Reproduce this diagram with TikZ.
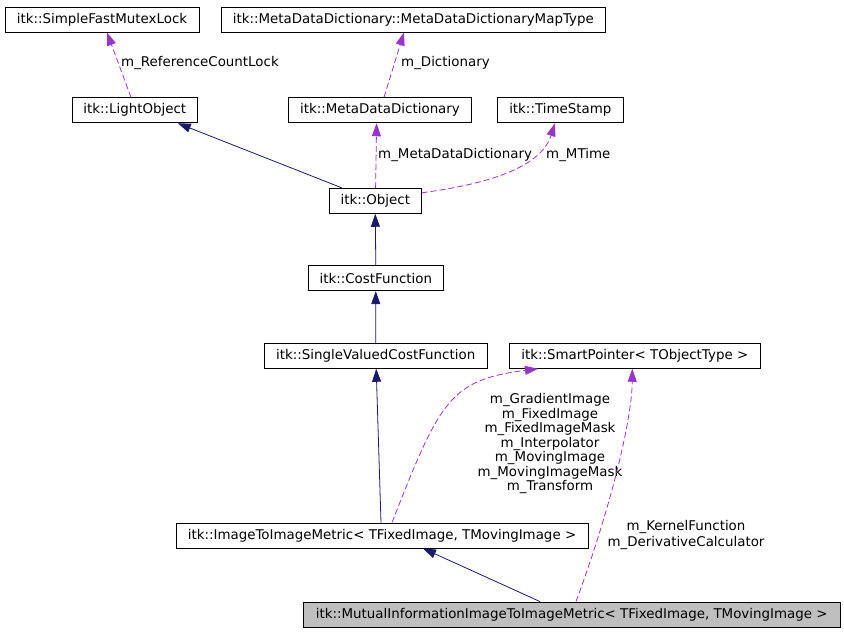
\documentclass[tikz,border=0pt]{standalone}
\usepackage{fontspec}
\setmainfont{DejaVu Sans}
\usetikzlibrary{arrows.meta}
\definecolor{inhcol}{HTML}{191970}
\definecolor{usecol}{HTML}{9A32CD}
\definecolor{fillgray}{HTML}{BFBFBF}
\begin{document}
\begin{tikzpicture}[x=1pt,y=-1pt,
  cls/.style={draw=black, line width=0.9pt, minimum height=25pt, inner sep=0pt, font=\fontsize{13.4}{14.5}\selectfont},
  inh/.style={draw=inhcol, line width=0.8pt, -{Triangle[length=13pt,width=9pt]}},
  use/.style={draw=usecol, line width=0.8pt, dash pattern=on 6pt off 3pt, -{Triangle[length=13pt,width=9pt]}},
  lbl/.style={inner sep=0pt, font=\fontsize{13.4}{14.5}\selectfont, align=center},
]
\useasboundingbox[fill=white] (0,0) rectangle (844,632);
\node[cls, minimum width=194pt] (sfml) at (102,19.5) {itk::SimpleFastMutexLock};
\node[cls, minimum width=384.7pt] (mapt) at (413.3,19.5) {itk::MetaDataDictionary::MetaDataDictionaryMapType};
\node[cls, minimum width=125pt] (light) at (134.8,110.3) {itk::LightObject};
\node[cls, minimum width=183.4pt] (mdd) at (380,110.3) {itk::MetaDataDictionary};
\node[cls, minimum width=126pt] (ts) at (560.3,110.3) {itk::TimeStamp};
\node[cls, minimum width=92pt] (obj) at (375.3,200.8) {itk::Object};
\node[cls, minimum width=135pt] (cost) at (375.8,278.2) {itk::CostFunction};
\node[cls, minimum width=223.3pt] (svcf) at (375.7,355.8) {itk::SingleValuedCostFunction};
\node[cls, minimum width=251pt] (sp) at (634.8,355.8) {itk::SmartPointer< TObjectType >};
\node[cls, minimum width=412pt] (i2i) at (382,535.5) {itk::ImageToImageMetric< TFixedImage, TMovingImage >};
\node[cls, minimum width=536.7pt, fill=fillgray] (mi) at (571.7,614.5) {itk::MutualInformationImageToImageMetric< TFixedImage, TMovingImage >};

% inheritance
\draw[inh] ([xshift=13pt]obj.north west) -- ([xshift=43pt]light.south);
\draw[inh] (cost.north) -- (obj.south);
\draw[inh] (svcf.north) -- (cost.south);
\draw[inh] ([xshift=-1pt]i2i.north) -- ([xshift=0.5pt]svcf.south);
\draw[inh] ([xshift=-31.7pt]mi.north) -- ([xshift=41pt]i2i.south);

% usage
\draw[use] ([xshift=-3.8pt]light.north) -- ([xshift=5pt]sfml.south);
\node[lbl, anchor=west] (l1) at (121,63) {m\_ReferenceCountLock};
\draw[use] ([xshift=4pt]mdd.north) -- ([xshift=-9.3pt]mapt.south);
\node[lbl, anchor=west] (l2) at (401,63) {m\_Dictionary};
\draw[use] ([xshift=0.3pt]obj.north) -- ([xshift=-3.4pt]mdd.south);
\node[lbl, anchor=west] (l3) at (378,155) {m\_MetaDataDictionary};
\draw[use] ([yshift=8pt]obj.east) .. controls (480,185) and (540,170) .. ([xshift=-5.3pt]ts.south);
\node[lbl, anchor=west] (l4) at (546,155) {m\_MTime};
\draw[use] ([xshift=10pt]i2i.north) .. controls (440,400) and (450,380) .. ([xshift=-96.8pt]sp.south);
\node[lbl] (l5) at (550,443.6) {m\_GradientImage\\m\_FixedImage\\m\_FixedImageMask\\m\_Interpolator\\m\_MovingImage\\m\_MovingImageMask\\m\_Transform};
\draw[use] ([xshift=4.3pt]mi.north) .. controls (610,510) and (632,420) .. ([xshift=-2.5pt]sp.south);
\node[lbl, font=\fontsize{13.4}{15.4}\selectfont] (l6) at (686,535) {m\_KernelFunction\\m\_DerivativeCalculator};
\end{tikzpicture}
\end{document}
